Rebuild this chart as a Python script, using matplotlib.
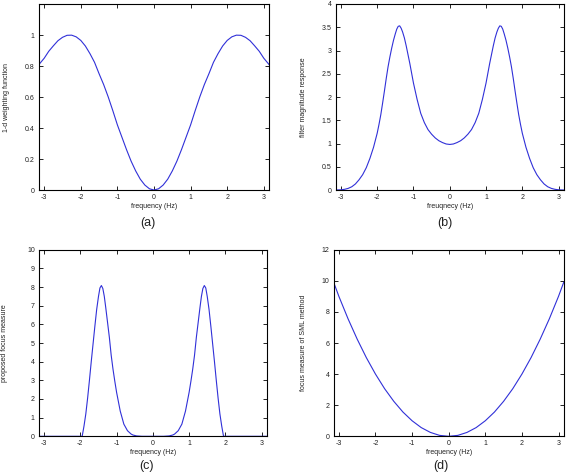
import matplotlib

matplotlib.use("Agg")
import matplotlib.pyplot as plt

plt.rcParams["font.family"] = ["Liberation Sans", "DejaVu Sans"]

# (a) 1-d weighting function
freq_a = [-3.1416, -3.0, -2.875, -2.75, -2.625, -2.5, -2.375, -2.25, -2.125, -2.0, -1.875,
          -1.75, -1.625, -1.5, -1.375, -1.25, -1.125, -1.0, -0.875, -0.75, -0.625, -0.5,
          -0.375, -0.25, -0.125, 0.0, 0.125, 0.25, 0.375, 0.5, 0.625, 0.75, 0.875, 1.0,
          1.125, 1.25, 1.375, 1.5, 1.625, 1.75, 1.875, 2.0, 2.125, 2.25, 2.375, 2.5, 2.625,
          2.75, 2.875, 3.0, 3.1416]
weight_a = [0.81, 0.85, 0.895, 0.93, 0.963, 0.985, 0.998, 0.999, 0.988, 0.965, 0.929,
            0.88, 0.824, 0.75, 0.68, 0.60, 0.512, 0.42, 0.34, 0.26, 0.186, 0.123,
            0.070, 0.032, 0.008, 0.0, 0.008, 0.032, 0.070, 0.123, 0.186, 0.26, 0.34, 0.42,
            0.512, 0.60, 0.68, 0.75, 0.824, 0.88, 0.929, 0.965, 0.988, 0.999, 0.998, 0.985, 0.963,
            0.93, 0.895, 0.85, 0.81]

# (b) filter magnitude response
freq_b = [-3.1416, -3.0, -2.9, -2.8, -2.7, -2.6, -2.5, -2.4, -2.3, -2.2, -2.1, -2.0, -1.95,
          -1.9, -1.85, -1.8, -1.75, -1.7, -1.65, -1.6, -1.55, -1.5, -1.46, -1.42, -1.38,
          -1.34, -1.3, -1.25, -1.2, -1.1, -1.0, -0.9, -0.8, -0.7, -0.6, -0.5, -0.4, -0.3,
          -0.2, -0.1, 0.0, 0.1, 0.2, 0.3, 0.4, 0.5, 0.6, 0.7, 0.8, 0.9, 1.0, 1.1, 1.2, 1.25,
          1.3, 1.34, 1.38, 1.42, 1.46, 1.5, 1.55, 1.6, 1.65, 1.7, 1.75, 1.8, 1.85, 1.9,
          1.95, 2.0, 2.1, 2.2, 2.3, 2.4, 2.5, 2.6, 2.7, 2.8, 2.9, 3.0, 3.1416]
resp_b = [0.0, 0.005, 0.015, 0.035, 0.07, 0.13, 0.22, 0.33, 0.48, 0.68, 0.92, 1.22, 1.41,
          1.62, 1.87, 2.13, 2.40, 2.65, 2.86, 3.05, 3.22, 3.36, 3.46, 3.52, 3.53,
          3.48, 3.40, 3.27, 3.10, 2.72, 2.30, 1.95, 1.65, 1.45, 1.30, 1.20, 1.12, 1.06,
          1.02, 0.99, 0.98, 0.99, 1.02, 1.06, 1.12, 1.20, 1.30, 1.45, 1.65, 1.95, 2.30, 2.72, 3.10, 3.27,
          3.40, 3.48, 3.53, 3.52, 3.46, 3.36, 3.22, 3.05, 2.86, 2.65, 2.40, 2.13, 1.87, 1.62,
          1.41, 1.22, 0.92, 0.68, 0.48, 0.33, 0.22, 0.13, 0.07, 0.035, 0.015, 0.005, 0.0]

# (c) proposed focus measure
freq_c = [-3.1416, -2.0, -1.95, -1.9, -1.85, -1.8, -1.75, -1.7, -1.65, -1.6, -1.55, -1.5,
          -1.46, -1.42, -1.38, -1.34, -1.3, -1.25, -1.2, -1.15, -1.1, -1.05, -1.0, -0.9,
          -0.8, -0.7, -0.6, -0.55, -0.45, -0.3, 0.0, 0.3, 0.45, 0.55, 0.6, 0.7, 0.8, 0.9,
          1.0, 1.05, 1.1, 1.15, 1.2, 1.25, 1.3, 1.34, 1.38, 1.42, 1.46, 1.5, 1.55, 1.6,
          1.65, 1.7, 1.75, 1.8, 1.85, 1.9, 1.95, 2.0, 3.1416]
focus_c = [0.0, 0.0, 0.0, 0.55, 1.2, 2.05, 3.0, 4.0, 4.95, 5.9, 6.8, 7.5,
           7.95, 8.08, 7.92, 7.5, 6.9, 6.1, 5.3, 4.35, 3.6, 2.95, 2.35, 1.35,
           0.65, 0.30, 0.12, 0.07, 0.02, 0.0, 0.0, 0.0, 0.02, 0.07, 0.12, 0.30, 0.65, 1.35,
           2.35, 2.95, 3.6, 4.35, 5.3, 6.1, 6.9, 7.5, 7.92, 8.08, 7.95, 7.5, 6.8, 5.9,
           4.95, 4.0, 3.0, 2.05, 1.2, 0.55, 0.0, 0.0, 0.0]

# (d) focus measure of SML method
freq_d = [-3.1416, -3.0, -2.75, -2.5, -2.25, -2.0, -1.75, -1.5, -1.25, -1.0, -0.75, -0.5, -0.25,
          0.0, 0.25, 0.5, 0.75, 1.0, 1.25, 1.5, 1.75, 2.0, 2.25, 2.5, 2.75, 3.0, 3.1416]
focus_d = [9.9, 9.0, 7.56, 6.25, 5.06, 4.0, 3.06, 2.25, 1.56, 1.0, 0.56, 0.25, 0.06,
           0.0, 0.06, 0.25, 0.56, 1.0, 1.56, 2.25, 3.06, 4.0, 5.06, 6.25, 7.56, 9.0, 9.9]

x_ticks = [-3, -2, -1, 0, 1, 2, 3]
y_ticks_a = [0, 0.2, 0.4, 0.6, 0.8, 1]
y_labels_a = ["0", "0.2", "0.4", "0.6", "0.8", "1"]
y_ticks_b = [0, 0.5, 1, 1.5, 2, 2.5, 3, 3.5, 4]
y_labels_b = ["0", "0.5", "1", "1.5", "2", "2.5", "3", "3.5", "4"]
y_ticks_c = list(range(0, 11))
y_ticks_d = [0, 2, 4, 6, 8, 10, 12]

PANELS = [
    # x, y, ylim, yticks, yticklabels, xlabel, ylabel, rect, ylabel_x, caption, caption_pos
    (freq_a, weight_a, 1.2, y_ticks_a, y_labels_a, "frequency (Hz)", "1-d weighting function",
     [0.0683, 0.6008, 0.4028, 0.3908], -0.128, "(a)", (0.259, 0.531)),
    (freq_b, resp_b, 4, y_ticks_b, y_labels_b, "freuqnecy (Hz)", "filter magnitude response",
     [0.588, 0.6008, 0.3993, 0.3908], -0.128, "(b)", (0.779, 0.531)),
    (freq_c, focus_c, 10, y_ticks_c, [str(v) for v in y_ticks_c], "frequency (Hz)",
     "proposed focus measure", [0.0683, 0.0834, 0.3988, 0.392], -0.134, "(c)", (0.256, 0.021)),
    (freq_d, focus_d, 12, y_ticks_d, [str(v) for v in y_ticks_d], "frequency (Hz)",
     "focus measure of SML method", [0.5844, 0.0834, 0.4028, 0.392], -0.118, "(d)", (0.772, 0.021)),
]

fig = plt.figure(figsize=(5.71, 4.76), dpi=100)

for xs, ys, ytop, yt, ytl, xlab, ylab, rect, ylx, cap, cap_pos in PANELS:
    ax = fig.add_axes(rect)
    ax.plot(xs, ys, color="#3030d8", lw=0.8)
    ax.set_xlim(-3.1416, 3.1416)
    ax.set_ylim(0, ytop)
    ax.set_xticks(x_ticks)
    ax.set_xticklabels([str(v) for v in x_ticks])
    ax.set_yticks(yt)
    ax.set_yticklabels(ytl)
    ax.tick_params(direction="in", length=3, width=0.6, labelsize=5, pad=3,
                   top=True, right=True, colors="black", labelcolor="#222222")
    for spine in ax.spines.values():
        spine.set_linewidth(0.8)
    ax.set_xlabel(xlab, fontsize=5, color="#222222")
    ax.xaxis.set_label_coords(0.5, -0.07)
    ax.set_ylabel(ylab, fontsize=5, color="#222222")
    ax.yaxis.set_label_coords(ylx, 0.5)
    fig.text(cap_pos[0], cap_pos[1], cap, fontsize=9, ha="center", va="center", color="#222222")

fig.savefig("out.png", dpi=100)
